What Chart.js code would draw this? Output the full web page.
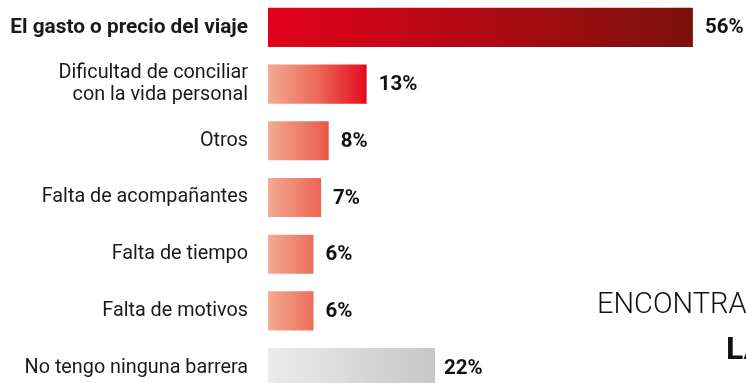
<!DOCTYPE html>
<html lang="es">
<head>
<meta charset="utf-8">
<script src="https://cdn.jsdelivr.net/npm/chart.js@4.4.1/dist/chart.umd.min.js"></script>
<style>
  html, body { margin: 0; padding: 0; background: #fff; overflow: hidden; }
  body { width: 746px; height: 383px; position: relative; }
  #wrap { position: absolute; left: 0; top: -1px; width: 746px; height: 397px; }
  .side { position: absolute; font-family: Roboto, sans-serif; color: #111; white-space: nowrap; line-height: 1; }
  #side1 { left: 597px; top: 289px; font-size: 29px; font-weight: 300; }
  #side2 { left: 726px; top: 332px; font-size: 32px; font-weight: 700; }
</style>
</head>
<body>
<div id="wrap"><canvas id="chart"></canvas></div>
<div class="side" id="side1">ENCONTRAR</div>
<div class="side" id="side2">LA</div>
<script>
// Barreras para viajar (% de respuestas)
const categories = [
  'El gasto o precio del viaje',
  ['Dificultad de conciliar', 'con la vida personal'],
  'Otros',
  'Falta de acompañantes',
  'Falta de tiempo',
  'Falta de motivos',
  'No tengo ninguna barrera'
];
const values = [56, 13, 8, 7, 6, 6, 22];
const valueLabels = ['56%', '13%', '8%', '7%', '6%', '6%', '22%'];
const barKind = ['main', 'red', 'red', 'red', 'red', 'red', 'none'];

// Gradient fill per bar group, laid out along the x scale
function barFill(ctx) {
  const chart = ctx.chart;
  const area = chart.chartArea;
  if (!area) return '#e3001b';
  const x = chart.scales.x;
  const c = chart.ctx;
  const kind = barKind[ctx.dataIndex];
  const x0 = x.getPixelForValue(0);
  let g;
  if (kind === 'main') {
    g = c.createLinearGradient(x0, 0, x.getPixelForValue(values[ctx.dataIndex]), 0);
    g.addColorStop(0, '#e3011d');
    g.addColorStop(1, '#7b110b');
  } else if (kind === 'red') {
    const redMax = Math.max(...values.filter((v, i) => barKind[i] === 'red'));
    g = c.createLinearGradient(x0, 0, x.getPixelForValue(redMax), 0);
    g.addColorStop(0, '#f4aa93');
    g.addColorStop(0.5, '#eb6a57');
    g.addColorStop(1, '#e30a1e');
  } else {
    g = c.createLinearGradient(x0, 0, x.getPixelForValue(values[ctx.dataIndex]), 0);
    g.addColorStop(0, '#ececec');
    g.addColorStop(1, '#c7c7c7');
  }
  return g;
}

// Percentage text after each bar
const valueText = {
  id: 'valueText',
  afterDatasetsDraw(chart) {
    const c = chart.ctx;
    const meta = chart.getDatasetMeta(0);
    c.save();
    c.font = 'bold 20.5px Roboto, sans-serif';
    c.fillStyle = '#111';
    c.textAlign = 'left';
    c.textBaseline = 'middle';
    meta.data.forEach((bar, i) => {
      c.fillText(valueLabels[i], bar.x + (barKind[i] === 'none' ? 9 : 12), bar.y + 1);
    });
    c.restore();
  }
};

new Chart(document.getElementById('chart'), {
  type: 'bar',
  data: {
    labels: categories,
    datasets: [{
      data: values,
      backgroundColor: barFill,
      borderWidth: 0,
      barPercentage: 0.69,
      categoryPercentage: 1
    }]
  },
  options: {
    indexAxis: 'y',
    responsive: true,
    maintainAspectRatio: false,
    animation: false,
    layout: { padding: 0 },
    plugins: { legend: { display: false }, tooltip: { enabled: false } },
    scales: {
      x: {
        display: false,
        min: 0,
        max: 63
      },
      y: {
        grid: { display: false, drawTicks: false },
        border: { display: false },
        afterFit(scale) {
          scale.width = 268;
          scale.paddingTop = 0;
          scale.paddingBottom = 0;
        },
        ticks: {
          color: '#1a1a1a',
          padding: 20,
          autoSkip: false,
          font: (ctx) => ({
            family: 'Roboto, sans-serif',
            size: ctx.index === 0 ? 20.8 : 19.8,
            weight: ctx.index === 0 ? 'bold' : 'normal',
            lineHeight: 1.12
          })
        }
      }
    }
  },
  plugins: [valueText]
});
</script>
</body>
</html>
